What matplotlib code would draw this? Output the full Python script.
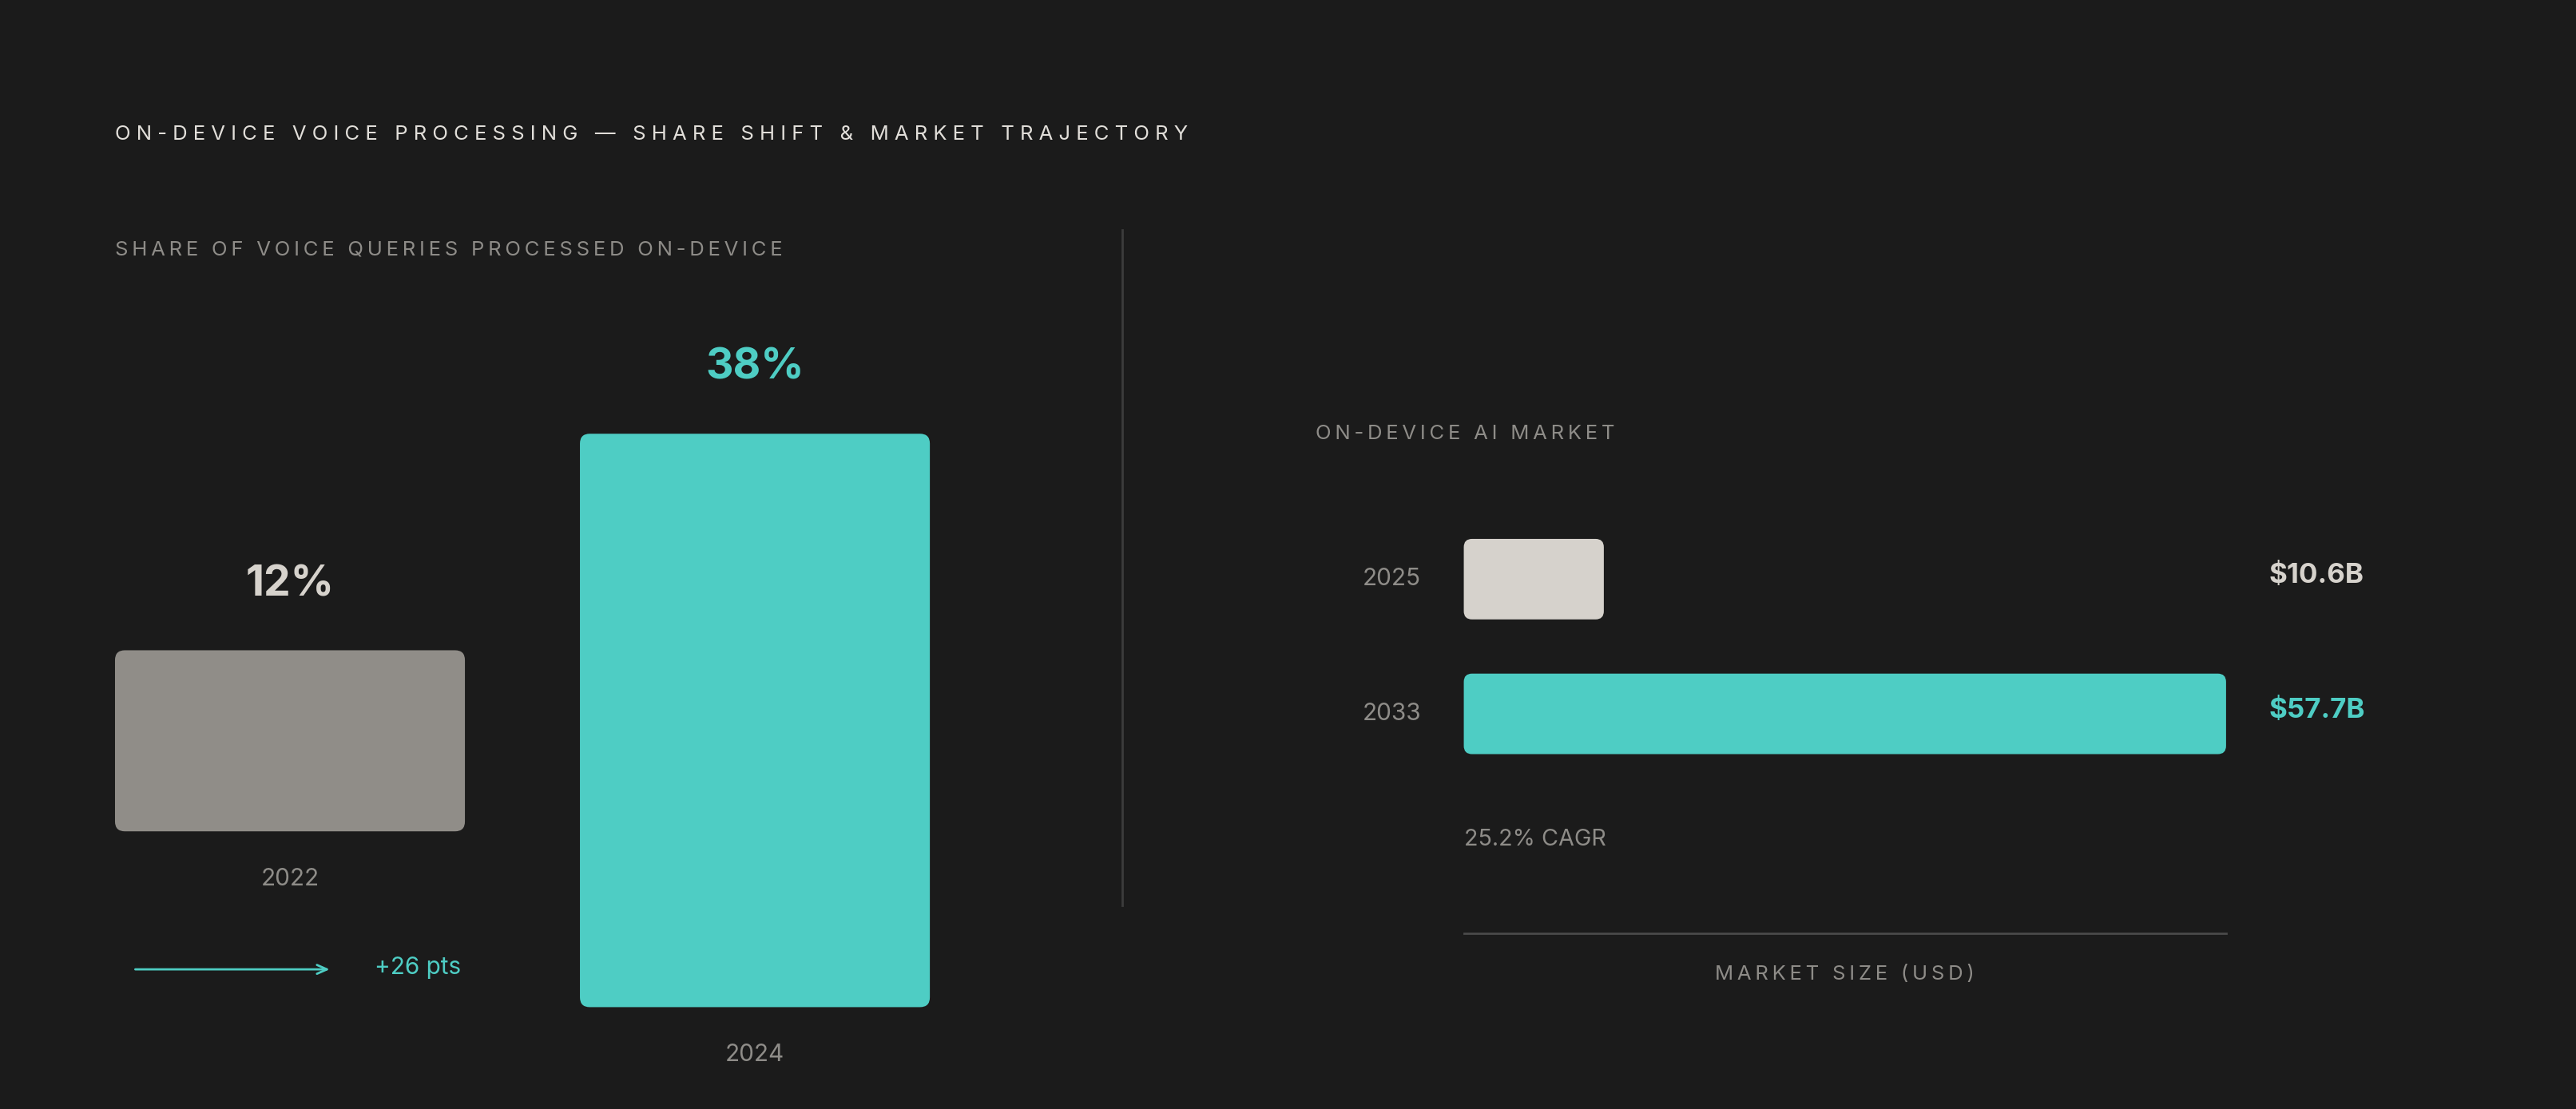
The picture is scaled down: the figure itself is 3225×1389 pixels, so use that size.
import matplotlib
matplotlib.use('Agg')
import matplotlib.pyplot as plt
from matplotlib.patches import FancyBboxPatch

BG = '#1b1b1b'
TEAL = '#4ecdc4'
GRAY = '#908d88'
LIGHT = '#d6d2cc'
TEXT = '#e2dfda'
MUTED = '#8e8c88'
LINE = '#3c3c3c'
FONT = ['Inter', 'DejaVu Sans']

# data
share_years = ['2022', '2024']
share_values = [12, 38]
market_years = ['2025', '2033']
market_values = [10.6, 57.7]
cagr_label = '25.2% CAGR'

W, H = 1568, 675
fig = plt.figure(figsize=(32.25, 13.89), dpi=100)
fig.patch.set_facecolor(BG)
ax = fig.add_axes([0, 0, 1, 1])
ax.set_facecolor(BG)
ax.set_xlim(0, W)
ax.set_ylim(H, 0)
ax.axis('off')

PT = 1.48  # display px -> points


def track(s, n=1):
    return ('\u200a' * n).join(s)


def txt(x, y, s, size, color, **kw):
    kw.setdefault('ha', 'left')
    kw.setdefault('va', 'center')
    ax.text(x, y, s, fontsize=size * PT, color=color, family=FONT, **kw)


txt(70, 82, track('ON-DEVICE VOICE PROCESSING — SHARE SHIFT & MARKET TRAJECTORY', 3), 12.5, TEXT)
txt(70, 152, track('SHARE OF VOICE QUERIES PROCESSED ON-DEVICE', 2), 12.5, MUTED)

# left: share bars (height in px proportional to value)
px_per_pt = 349 / 38
bar_x = [70, 353]
bar_w = 213
bar_bottom = [506, 613]
share_colors = [GRAY, TEAL]
label_colors = [LIGHT, TEAL]
for i, (yr, v) in enumerate(zip(share_years, share_values)):
    h = v * px_per_pt
    top = bar_bottom[i] - h
    ax.add_patch(FancyBboxPatch((bar_x[i] + 6, top + 6), bar_w - 12, h - 12,
                                boxstyle='round,pad=6', linewidth=0,
                                facecolor=share_colors[i]))
    cx = bar_x[i] + bar_w / 2
    txt(cx, top - 40, f'{v}%', 26, label_colors[i], ha='center', fontweight='bold')
    txt(cx, bar_bottom[i] + 29, yr, 14.5, MUTED, ha='center')

diff = share_values[1] - share_values[0]
ax.annotate('', xy=(202, 590), xytext=(81, 590),
            arrowprops=dict(arrowstyle='->,head_length=0.9,head_width=0.4',
                            color=TEAL, lw=2))
txt(228, 589, f'+{diff} pts', 14.5, TEAL)

# divider
ax.plot([683, 683], [140, 551], color=LINE, lw=2)

# right: market bars
txt(801, 264, track('ON-DEVICE AI MARKET', 2), 12.5, MUTED)
px_per_b = 464 / 57.7
x0 = 891
bar_y = [328, 410]
bar_h = 49
m_colors = [LIGHT, TEAL]
v_colors = [LIGHT, TEAL]
for i, (yr, v) in enumerate(zip(market_years, market_values)):
    w = v * px_per_b
    ax.add_patch(FancyBboxPatch((x0 + 5, bar_y[i] + 5), w - 10, bar_h - 10,
                                boxstyle='round,pad=5', linewidth=0,
                                facecolor=m_colors[i]))
    cy = bar_y[i] + bar_h / 2
    txt(865, cy, yr, 14.5, MUTED, ha='right')
    txt(1381, cy - 2, f'${v}B', 17, v_colors[i], fontweight='bold')

txt(891, 511, cagr_label, 14, MUTED)
ax.plot([891, 1355], [568, 568], color='#4a4a4a', lw=2)
txt(1123, 593, track('MARKET SIZE (USD)', 2), 12.5, MUTED, ha='center')

fig.savefig('out.png', dpi=100, facecolor=BG)
